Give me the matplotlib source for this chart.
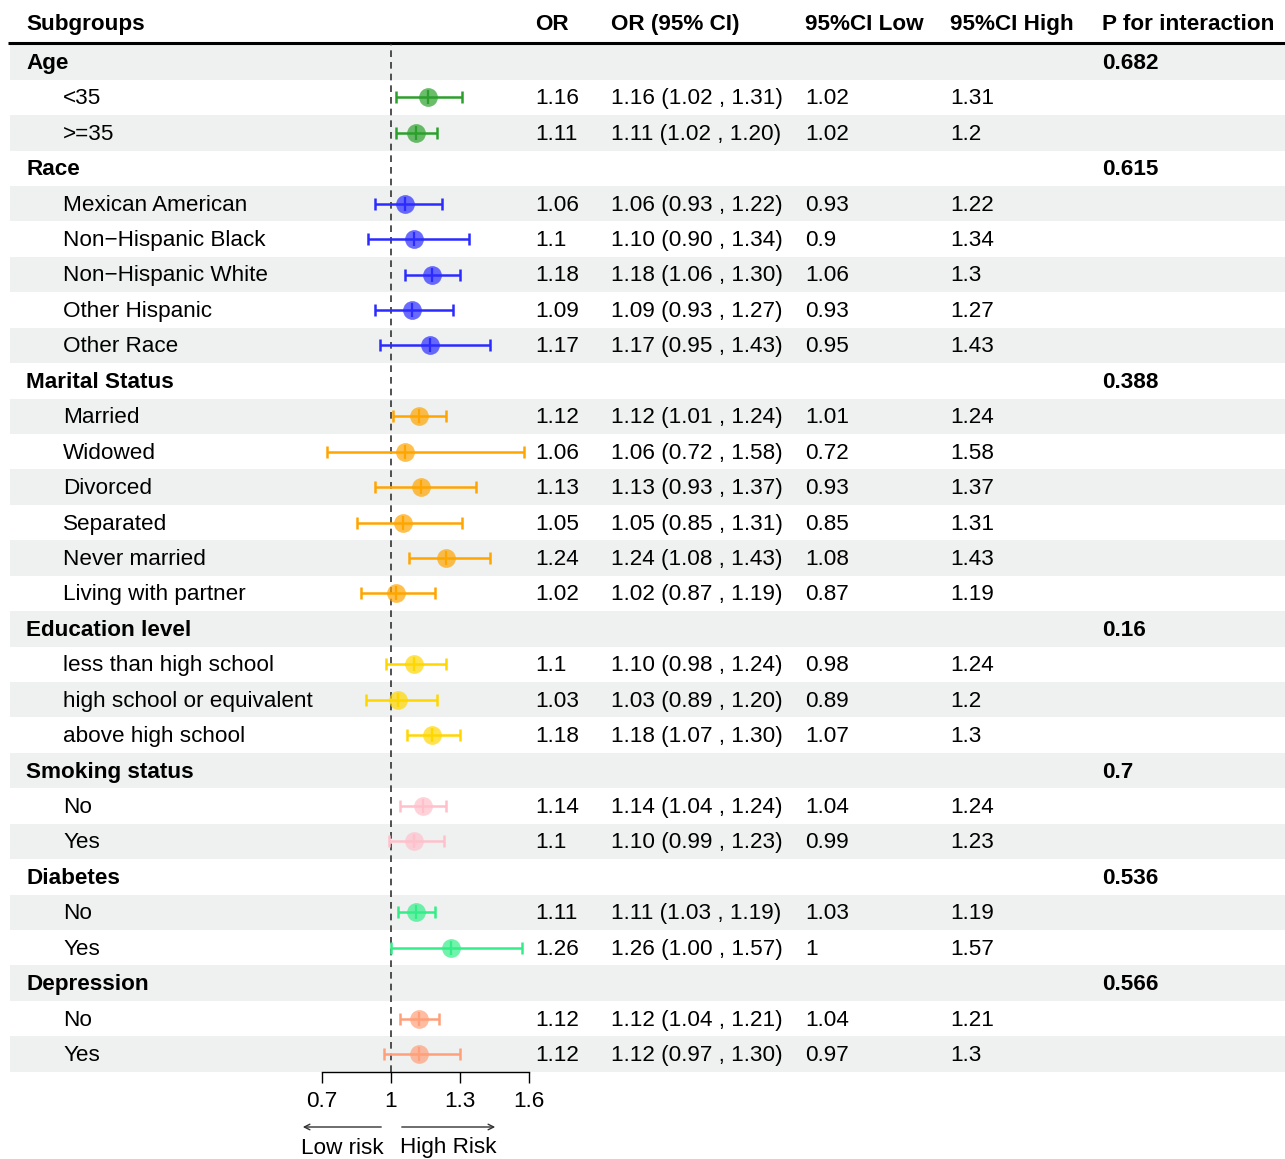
import matplotlib
matplotlib.use("Agg")
import matplotlib.pyplot as plt
from matplotlib.patches import Rectangle

plt.rcParams['font.family'] = ['Liberation Sans', 'DejaVu Sans']

# ---------------- data ----------------
groups = ["Age", "Race", "Marital Status", "Education level",
          "Smoking status", "Diabetes", "Depression"]
p_interaction = ["0.682", "0.615", "0.388", "0.16", "0.7", "0.536", "0.566"]
group_colors = ["#2ca02c", "#2b2bff", "orange", "gold", "pink", "#33ee88", "lightsalmon"]

subgroups = [
    ["<35", ">=35"],
    ["Mexican American", "Non\u2212Hispanic Black", "Non\u2212Hispanic White",
     "Other Hispanic", "Other Race"],
    ["Married", "Widowed", "Divorced", "Separated", "Never married",
     "Living with partner"],
    ["less than high school", "high school or equivalent", "above high school"],
    ["No", "Yes"],
    ["No", "Yes"],
    ["No", "Yes"],
]
or_vals = [
    [1.16, 1.11],
    [1.06, 1.10, 1.18, 1.09, 1.17],
    [1.12, 1.06, 1.13, 1.05, 1.24, 1.02],
    [1.10, 1.03, 1.18],
    [1.14, 1.10],
    [1.11, 1.26],
    [1.12, 1.12],
]
ci_low = [
    [1.02, 1.02],
    [0.93, 0.90, 1.06, 0.93, 0.95],
    [1.01, 0.72, 0.93, 0.85, 1.08, 0.87],
    [0.98, 0.89, 1.07],
    [1.04, 0.99],
    [1.03, 1.00],
    [1.04, 0.97],
]
ci_high = [
    [1.31, 1.20],
    [1.22, 1.34, 1.30, 1.27, 1.43],
    [1.24, 1.58, 1.37, 1.31, 1.43, 1.19],
    [1.24, 1.20, 1.30],
    [1.24, 1.23],
    [1.19, 1.57],
    [1.21, 1.30],
]
headers = ["Subgroups", "OR", "OR (95% CI)", "95%CI Low", "95%CI High", "P for interaction"]
x_ticks = [0.7, 1.0, 1.3, 1.6]
tick_labels = ["0.7", "1", "1.3", "1.6"]

# ---------------- layout ----------------
W, H = 1285, 1159
fig = plt.figure(figsize=(W / 100, H / 100), dpi=100)
row0_px = 62.0
row_h = 35.43
ylim = ((H - row0_px) / row_h, -row0_px / row_h)

ax = fig.add_axes([0, 0, 1, 1])
ax.set_xlim(0, W)
ax.set_ylim(*ylim)
ax.axis("off")

FS = 16.2
col_x = [26, 535, 611, 805, 950, 1102]
dy = 0.04  # small downward shift for text centring

def fmt(v):
    return "{:g}".format(v)

# header
for hx, h in zip(col_x, headers):
    ax.text(hx, -1.05, h, fontsize=FS, fontweight="bold", va="center", ha="left")
ax.plot([8, W], [-0.535, -0.535], color="black", lw=2.2, solid_capstyle="butt")

# build rows
rows = []  # (label, is_header, or, lo, hi, p, color)
for g, p, c, subs, ors, los, his in zip(groups, p_interaction, group_colors,
                                        subgroups, or_vals, ci_low, ci_high):
    rows.append((g, True, None, None, None, p, c))
    for s, o, lo, hi in zip(subs, ors, los, his):
        rows.append((s, False, o, lo, hi, None, c))
n = len(rows)

# shading
for i in range(n):
    if i % 2 == 0:
        ax.add_patch(Rectangle((10, i - 0.5), W - 10, 1, color="#eef1f0", lw=0, zorder=0))

# texts
for i, (lab, is_h, o, lo, hi, p, c) in enumerate(rows):
    y = i + dy
    if is_h:
        ax.text(col_x[0], y, lab, fontsize=FS, fontweight="bold", va="center")
        ax.text(col_x[5], y, p, fontsize=FS, fontweight="bold", va="center")
    else:
        ax.text(63, y, lab, fontsize=FS, va="center")
        ax.text(col_x[1], y, fmt(o), fontsize=FS, va="center")
        ax.text(col_x[2], y, "{:.2f} ({:.2f} , {:.2f})".format(o, lo, hi), fontsize=FS, va="center")
        ax.text(col_x[3], y, fmt(lo), fontsize=FS, va="center")
        ax.text(col_x[4], y, fmt(hi), fontsize=FS, va="center")

# forest axes
x0_px, x1_px = 322, 529
top_px, bot_px = row0_px - 0.5 * row_h, row0_px + (n - 0.5) * row_h
fax = fig.add_axes([x0_px / W, 1 - bot_px / H, (x1_px - x0_px) / W, (bot_px - top_px) / H])
fax.set_xlim(0.7, 1.6)
fax.set_ylim(n - 0.5, -0.5)
fax.patch.set_alpha(0)
for s in ["top", "left", "right"]:
    fax.spines[s].set_visible(False)
fax.spines["bottom"].set_linewidth(1.0)
fax.set_yticks([])
fax.set_xticks(x_ticks)
fax.set_xticklabels(tick_labels, fontsize=FS)
fax.tick_params(axis="x", direction="out", length=8, width=1.0, pad=6)

fax.axvline(1.0, color="#333333", lw=1.2, ls=(0, (4, 3)), zorder=1)

for i, (lab, is_h, o, lo, hi, p, c) in enumerate(rows):
    if is_h:
        continue
    fax.errorbar([o], [i], xerr=[[o - lo], [hi - o]], fmt="none", ecolor=c,
                 elinewidth=1.8, capsize=4.3, capthick=1.8, clip_on=False, zorder=3)
    fax.plot([o], [i], "o", ms=13.5, color=c, alpha=0.7, mec="none", clip_on=False, zorder=4)
    fax.plot([o], [i], "|", ms=10.5, mew=1.6, color=c, clip_on=False, zorder=5)

# risk arrows
ay = (1127 - row0_px) / row_h
ax.annotate("", xy=(300, ay), xytext=(384, ay),
            arrowprops=dict(arrowstyle="->", lw=1.0, color="#333333"))
ax.annotate("", xy=(498, ay), xytext=(399, ay),
            arrowprops=dict(arrowstyle="->", lw=1.0, color="#333333"))
ty = (1148 - row0_px) / row_h
ax.text(342, ty, "Low risk", fontsize=FS, ha="center", va="center")
ax.text(448, ty, "High Risk", fontsize=FS, ha="center", va="center")

fig.savefig("out.png", dpi=100)
